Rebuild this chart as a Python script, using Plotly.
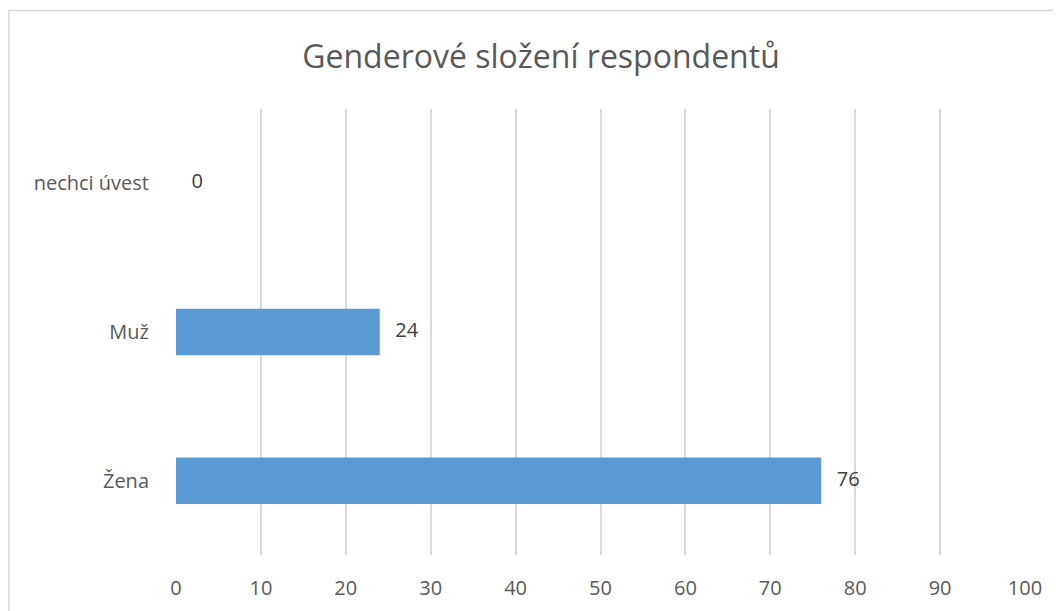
import plotly.graph_objects as go

# data (bottom to top, as in the chart)
categories = ["Žena", "Muž", "nechci úvest"]
counts = [76, 24, 0]
x_ticks = [0, 10, 20, 30, 40, 50, 60, 70, 80, 90, 100]

# the page body has an 8px margin, so the figure is sized/placed to compensate
OFF = 8
W, H = 1061 - OFF, 611 - OFF
L, R, T, B = 176 - OFF, 36, 109 - OFF, 56

fig = go.Figure()

fig.add_trace(go.Bar(
    x=counts,
    y=categories,
    orientation="h",
    width=0.313,
    marker=dict(color="#5B9BD5", line=dict(width=0)),
    hoverinfo="skip",
))

# data labels just right of each bar end
fig.add_trace(go.Scatter(
    x=counts,
    y=categories,
    mode="text",
    text=[f"   {v}" for v in counts],
    textposition="middle right",
    textfont=dict(family="Open Sans", size=20, color="#404040"),
    cliponaxis=False,
    hoverinfo="skip",
))

plot_w = W - L - R
plot_h = H - T - B

# light grey chart border (top and left visible in the picture)
fig.add_shape(
    type="rect", xref="paper", yref="paper",
    x0=(9 - OFF - L) / plot_w, x1=(W + 10 - L) / plot_w,
    y0=-(H + 10 - T - plot_h) / plot_h, y1=1 + (T - (10.5 - OFF)) / plot_h,
    line=dict(color="#D9D9D9", width=1.5), fillcolor="rgba(0,0,0,0)",
    layer="below",
)

fig.update_layout(
    width=W, height=H,
    margin=dict(l=L, r=R, t=T, b=B, autoexpand=False),
    paper_bgcolor="white",
    plot_bgcolor="white",
    showlegend=False,
    title=dict(
        text="Genderové složení respondentů",
        font=dict(family="Open Sans", size=32, color="#595959"),
        x=(541 - OFF) / W, xref="container", xanchor="center",
        y=1 - (57 - OFF) / H, yref="container", yanchor="middle",
    ),
    xaxis=dict(
        range=[0, 100],
        tickvals=x_ticks,
        showgrid=True, gridcolor="#D9D9D9", gridwidth=2,
        zeroline=False, showline=False, automargin=False,
        ticks="", ticklabelstandoff=19,
        tickfont=dict(family="Open Sans", size=20, color="#595959"),
    ),
    yaxis=dict(
        type="category",
        categoryorder="array", categoryarray=categories,
        range=[-0.5, 2.5],
        showgrid=False, zeroline=False, showline=False, automargin=False,
        ticks="", ticklabelstandoff=26,
        tickfont=dict(family="Open Sans", size=20, color="#595959"),
    ),
)

fig.write_html("out.html")
